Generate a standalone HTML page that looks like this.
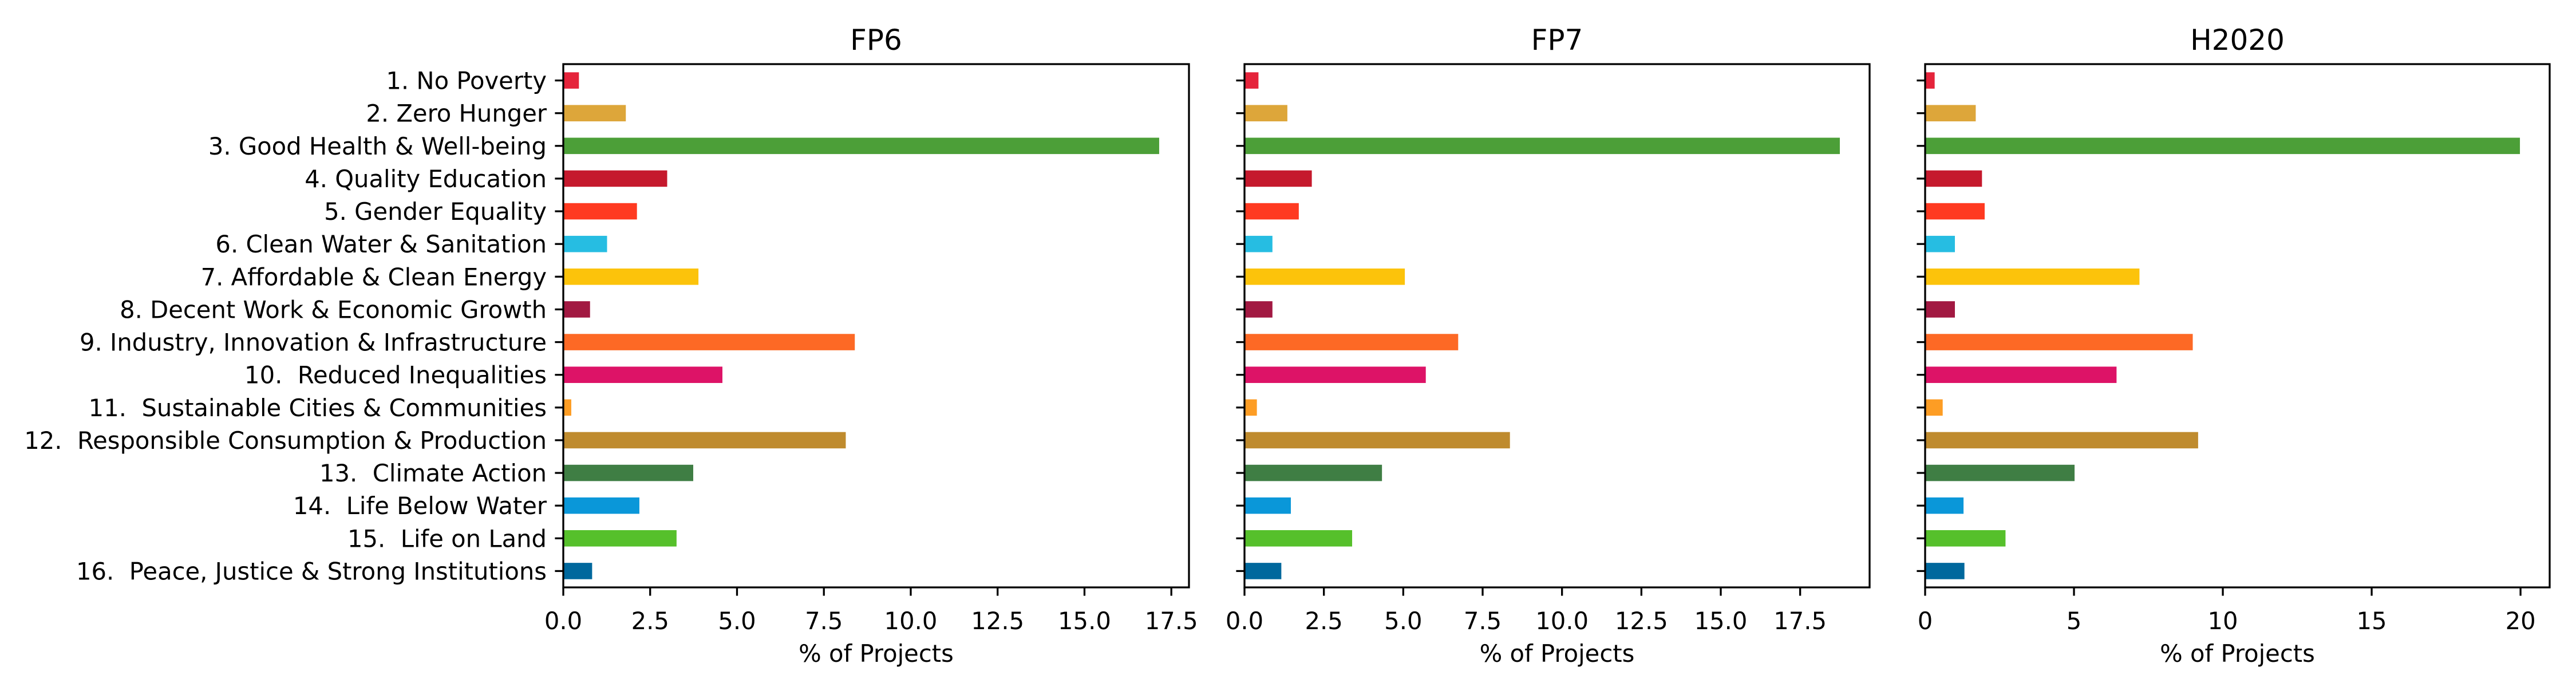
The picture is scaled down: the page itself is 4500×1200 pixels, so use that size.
<!DOCTYPE html>
<html><head><meta charset="utf-8">
<style>
html,body{margin:0;padding:0;background:#fff;}
svg{display:block;}
text{font-family:"DejaVu Sans","Liberation Sans",sans-serif;fill:#000;white-space:pre;}
</style></head>
<body>
<svg id="chart" width="4500" height="1200" viewBox="0 0 4500 1200" xmlns="http://www.w3.org/2000/svg" xml:space="preserve"></svg>
<script>
const categories = ["1. No Poverty","2. Zero Hunger","3. Good Health & Well-being","4. Quality Education","5. Gender Equality","6. Clean Water & Sanitation","7. Affordable & Clean Energy","8. Decent Work & Economic Growth","9. Industry, Innovation & Infrastructure","10.  Reduced Inequalities","11.  Sustainable Cities & Communities","12.  Responsible Consumption & Production","13.  Climate Action","14.  Life Below Water","15.  Life on Land","16.  Peace, Justice & Strong Institutions"];
const colors = ["#E5243B","#DDA63A","#4C9F38","#C5192D","#FF3A21","#26BDE2","#FCC30B","#A21942","#FD6925","#DD1367","#FD9D24","#BF8B2E","#3F7E44","#0A97D9","#56C02B","#00689D"];
const panelTitles = ["FP6","FP7","H2020"];
const fp6Values = [0.45,1.80,17.15,2.99,2.12,1.26,3.89,0.77,8.39,4.58,0.23,8.13,3.74,2.19,3.26,0.83];
const fp7Values = [0.44,1.35,18.75,2.12,1.71,0.88,5.05,0.88,6.73,5.71,0.39,8.36,4.33,1.46,3.39,1.16];
const h2020Values = [0.32,1.70,19.98,1.91,2.00,1.00,7.20,1.00,8.99,6.43,0.59,9.17,5.02,1.29,2.70,1.32];
const fp6Ticks = [0,2.5,5,7.5,10,12.5,15,17.5];
const fp6TickLabels = ["0.0","2.5","5.0","7.5","10.0","12.5","15.0","17.5"];
const fp7Ticks = [0,2.5,5,7.5,10,12.5,15,17.5];
const fp7TickLabels = ["0.0","2.5","5.0","7.5","10.0","12.5","15.0","17.5"];
const h2020Ticks = [0,5,10,15,20];
const h2020TickLabels = ["0","5","10","15","20"];
const xLabel = "% of Projects";

const NS = "http://www.w3.org/2000/svg";
const svg = document.getElementById('chart');
function mk(tag, attrs, parent){
  const e = document.createElementNS(NS, tag);
  for (const k in attrs) e.setAttribute(k, attrs[k]);
  (parent||svg).appendChild(e);
  return e;
}
const axTop = 112, axBottom = 1026;
const panels = [
  {left:984, right:2077, vals:fp6Values, ticks:fp6Ticks, labels:fp6TickLabels, showY:true, name:'fp6'},
  {left:2174, right:3266, vals:fp7Values, ticks:fp7Ticks, labels:fp7TickLabels, showY:false, name:'fp7'},
  {left:3363, right:4454, vals:h2020Values, ticks:h2020Ticks, labels:h2020TickLabels, showY:false, name:'h2020'}
];
const nCat = categories.length;
const step = (axBottom-axTop)/nCat;
const yPos = i => axTop + step*(i+0.5);

panels.forEach((p, pi) => {
  const g = mk('g', {});
  
  
  const vmax = Math.max(...p.vals) * 1.05;
  const xs = v => p.left + (p.right - p.left) * v / vmax;
  p.vals.forEach((v, i) => {
    const r = mk('rect', {x:xs(0), y:yPos(i)-step*0.25, width:Math.max(0, xs(v)-xs(0)), height:step*0.5, fill:colors[i]}, g);
    
    
  });
  categories.forEach((c, i) => {
    mk('line', {x1:p.left-14.6, x2:p.left, y1:yPos(i), y2:yPos(i), stroke:'#000', 'stroke-width':3.3}, g);
    if (p.showY) {
      const t = mk('text', {x:p.left-29, y:yPos(i)+15, 'text-anchor':'end', 'font-size':41.7}, g);
      t.textContent = c;
      
      
    }
  });
  p.ticks.forEach((tv, i) => {
    const x = xs(tv);
    mk('line', {x1:x, x2:x, y1:axBottom, y2:axBottom+14.6, stroke:'#000', 'stroke-width':3.3}, g);
    const t = mk('text', {x:x, y:axBottom+73, 'text-anchor':'middle', 'font-size':41.7}, g);
    t.textContent = p.labels[i];
    
    
  });
  const fr = mk('rect', {x:p.left, y:axTop, width:p.right-p.left, height:axBottom-axTop, fill:'none', stroke:'#000', 'stroke-width':3.3}, g);
  
  
  const ti = mk('text', {x:(p.left+p.right)/2, y:axTop-25, 'text-anchor':'middle', 'font-size':50}, g);
  ti.textContent = panelTitles[pi];
  
  
  const xl = mk('text', {x:(p.left+p.right)/2, y:1156, 'text-anchor':'middle', 'font-size':41.7}, g);
  xl.textContent = xLabel;
  
  
});
</script>
</body></html>
